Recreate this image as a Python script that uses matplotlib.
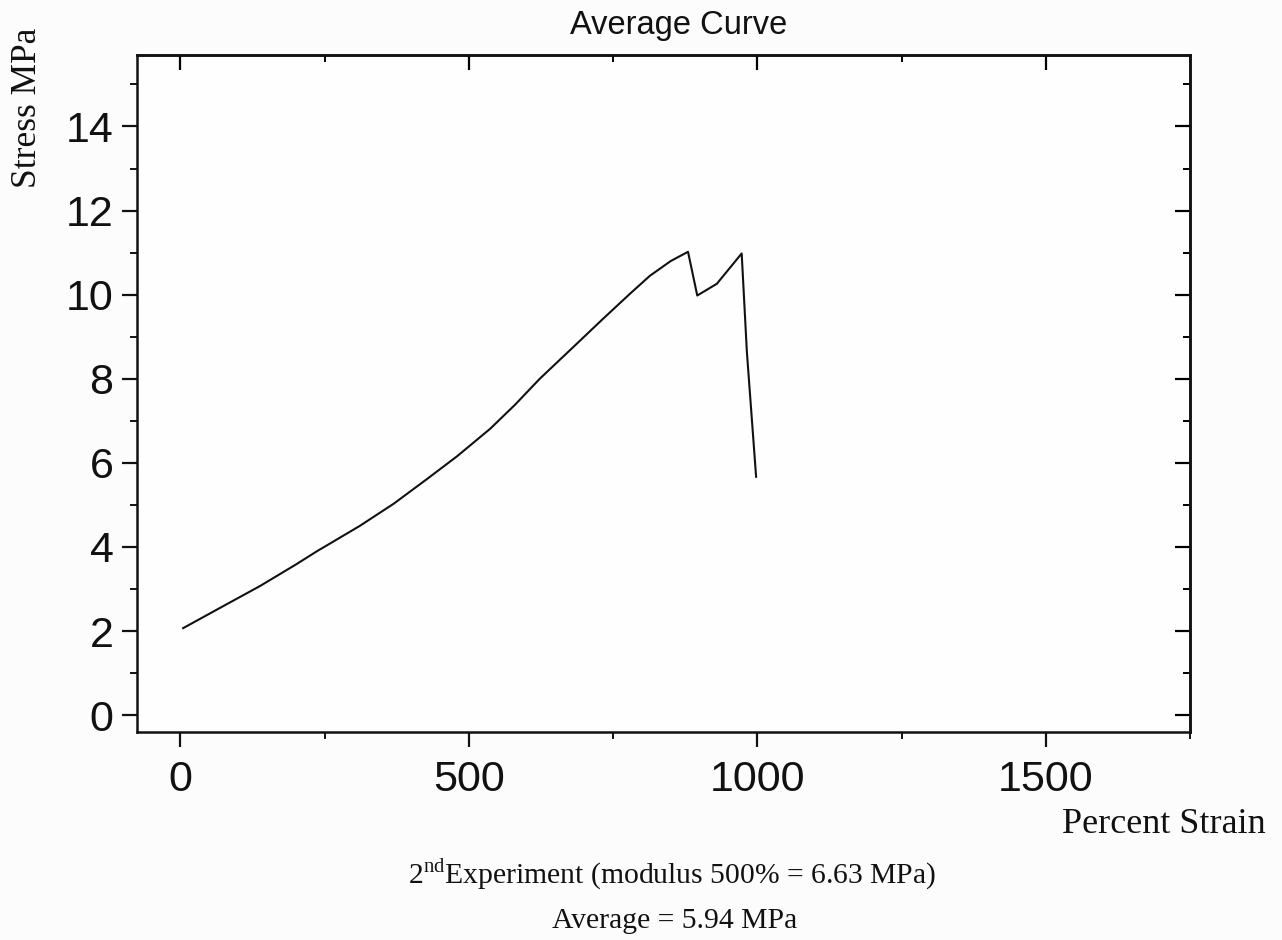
import matplotlib
matplotlib.use("Agg")
import matplotlib.pyplot as plt
from matplotlib.ticker import MultipleLocator

# averaged stress-strain curve (percent strain, MPa)
strain = [5, 70, 138, 200, 237, 311, 370, 428, 480, 537, 580, 623, 680,
          733, 780, 814, 850, 880, 896, 930, 973, 982, 998]
stress = [2.07, 2.56, 3.07, 3.58, 3.90, 4.50, 5.03, 5.62, 6.16, 6.81, 7.38,
          8.00, 8.74, 9.43, 10.03, 10.45, 10.80, 11.02, 9.98, 10.26, 10.98,
          8.64, 5.67]

x_ticks = [0, 500, 1000, 1500]
y_ticks = [0, 2, 4, 6, 8, 10, 12, 14]

experiment_note = r"2$^{\mathrm{nd}}$Experiment (modulus 500% = 6.63 MPa)"
average_note = "Average = 5.94 MPa"

plt.rcParams['mathtext.fontset'] = 'custom'
plt.rcParams['mathtext.rm'] = 'Liberation Serif'

W, H = 1282, 940
fig = plt.figure(figsize=(W / 100, H / 100), dpi=100, facecolor='#fcfcfc')
ax = fig.add_axes([137 / W, 1 - 732 / H, 1053 / W, 677 / H])
ax.set_facecolor('#fefefe')

ax.plot(strain, stress, color='#111111', lw=1.5)

ax.set_xlim(-75, 1750)
ax.set_ylim(-0.4, 15.7)
ax.set_xticks(x_ticks)
ax.set_yticks(y_ticks)
ax.xaxis.set_minor_locator(MultipleLocator(250))
ax.yaxis.set_minor_locator(MultipleLocator(1))

for s in ax.spines.values():
    s.set_linewidth(1.8)
    s.set_color('#111111')

ax.tick_params(axis='both', which='major', length=11, width=1.6, color='#111111',
               labelsize=31, labelcolor='#111111')
ax.tick_params(axis='both', which='minor', length=5, width=1.4, color='#111111')
ax.tick_params(axis='x', which='both', direction='out', top=False)
ax.tick_params(axis='y', which='both', direction='out', right=False)
ax.tick_params(axis='x', which='major', pad=9)
ax.tick_params(axis='y', which='major', pad=6)
for lab in ax.get_xticklabels() + ax.get_yticklabels():
    lab.set_family('Liberation Sans')

# inward ticks on the top and right edges
top = ax.secondary_xaxis('top')
top.set_xticks(x_ticks)
top.xaxis.set_minor_locator(MultipleLocator(250))
top.tick_params(which='major', direction='in', length=11, width=1.6, labeltop=False)
top.tick_params(which='minor', direction='in', length=5, width=1.4)
top.spines['top'].set_linewidth(1.8)
right = ax.secondary_yaxis('right')
right.set_yticks(y_ticks)
right.yaxis.set_minor_locator(MultipleLocator(1))
right.tick_params(which='major', direction='in', length=11, width=1.6, labelright=False)
right.tick_params(which='minor', direction='in', length=5, width=1.4)
right.spines['right'].set_linewidth(1.8)

fig.text(679 / W, 1 - 34 / H, "Average Curve", family='Liberation Sans',
         fontsize=23.5, ha='center', va='baseline', color='#111111')
fig.text(27 / W, 1 - 108 / H, "Stress MPa", family='Liberation Serif',
         fontsize=25.5, rotation=90, ha='center', va='center', color='#111111')
fig.text(1164 / W, 1 - 833 / H, "Percent Strain", family='Liberation Serif',
         fontsize=26, ha='center', va='baseline', color='#111111')
fig.text(672 / W, 1 - 884 / H, experiment_note, family='Liberation Serif',
         fontsize=21.3, ha='center', va='baseline', color='#111111')
fig.text(675 / W, 1 - 928 / H, average_note, family='Liberation Serif',
         fontsize=21.3, ha='center', va='baseline', color='#111111')

fig.savefig('out.png', dpi=100, facecolor=fig.get_facecolor())
